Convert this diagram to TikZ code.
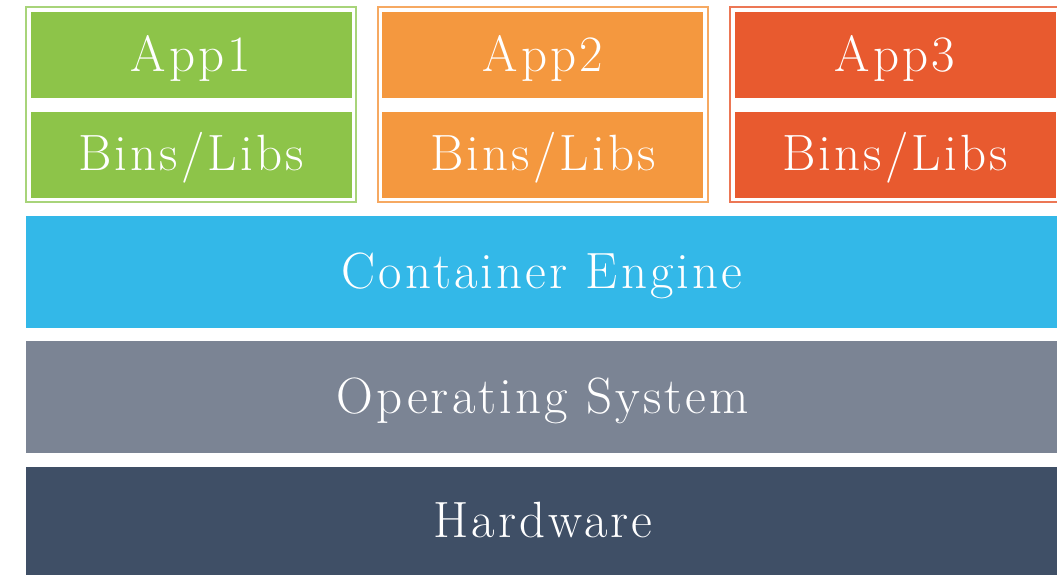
\documentclass[tikz,border=0pt]{standalone}
\usepackage{fontspec}
\newfontfamily\lblfont{Latin Modern Roman}[LetterSpace=6]
\begin{document}
\begin{tikzpicture}[x=1pt,y=-1pt,
  group/.style={draw=#1, line width=1.2pt, fill=white},
  lbl/.style={anchor=base, text=white, inner sep=0pt,
    font=\lblfont\fontsize{51}{51}\selectfont}]
\definecolor{appgreen}{HTML}{8DC449}
\definecolor{appgreenline}{HTML}{A8D47A}
\definecolor{apporange}{HTML}{F4983F}
\definecolor{apporangeline}{HTML}{F6A962}
\definecolor{appred}{HTML}{E85A2F}
\definecolor{appredline}{HTML}{EC7755}
\definecolor{engine}{HTML}{33B8E8}
\definecolor{osgray}{HTML}{7B8494}
\definecolor{hwdark}{HTML}{3F4F66}
\useasboundingbox (0,0) rectangle (1057,574);

% application stacks
\foreach \name/\xa/\xb/\xi/\xo/\col in {one/26/356/31/352/appgreen, two/378/708/382/703/apporange, three/730/1062/735/1056/appred}{
  \draw[group=\col line] (\xa,7) rectangle (\xb,202);
  \fill[\col] (\xi,12) rectangle (\xo,98);
  \fill[\col] (\xi,112) rectangle (\xo,198);
}
\node[lbl] (app1) at (191,71) {App1};
\node[lbl] (bins1) at (191,170) {Bins/Libs};
\node[lbl] (app2) at (543,71) {App2};
\node[lbl] (bins2) at (543,170) {Bins/Libs};
\node[lbl] (app3) at (895,71) {App3};
\node[lbl] (bins3) at (895,170) {Bins/Libs};

% shared layers
\fill[engine] (26,216) rectangle (1060,328);
\fill[osgray] (26,341) rectangle (1060,453);
\fill[hwdark] (26,467) rectangle (1060,577);
\node[lbl] (engine) at (542,288) {Container Engine};
\node[lbl] (os) at (543,413) {Operating System};
\node[lbl] (hw) at (543,537) {Hardware};
\end{tikzpicture}
\end{document}
